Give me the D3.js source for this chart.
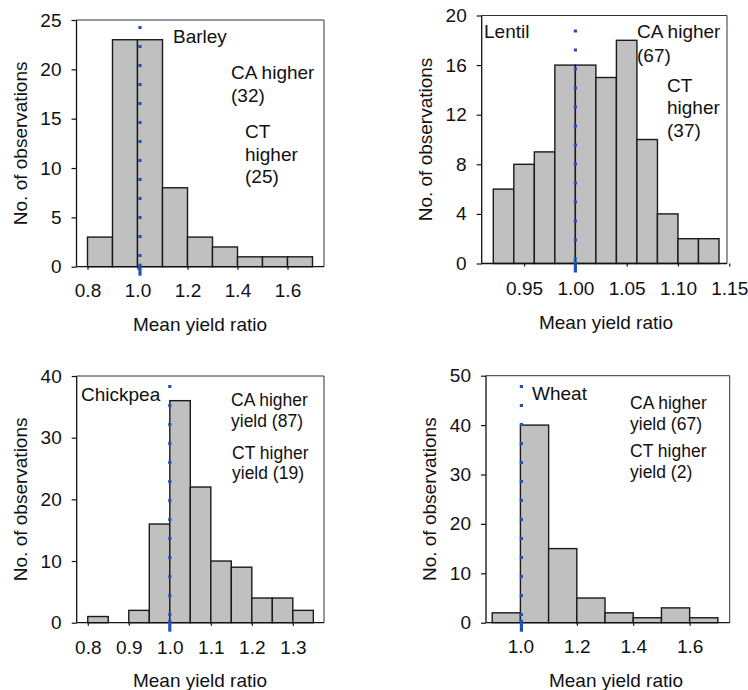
<!DOCTYPE html>
<html>
<head>
<meta charset="utf-8">
<script src="https://cdn.jsdelivr.net/npm/d3@7"></script>
<style>
  html, body { margin: 0; padding: 0; background: #fff; }
  svg text { font-family: "Liberation Sans", Arial, sans-serif; fill: #111; }
</style>
</head>
<body>
<svg id="chart" width="748" height="690"></svg>
<script>
// ---------- DATA ----------
const barleyBinStarts = [0.8, 0.9, 1.0, 1.1, 1.2, 1.3, 1.4, 1.5, 1.6];
const barleyCounts    = [3, 23, 23, 8, 3, 2, 1, 1, 1];
const barleyXTicks    = [0.8, 1.0, 1.2, 1.4, 1.6];
const barleyYTicks    = [0, 5, 10, 15, 20, 25];

const lentilBinStarts = [0.92, 0.94, 0.96, 0.98, 1.00, 1.02, 1.04, 1.06, 1.08, 1.10, 1.12];
const lentilCounts    = [6, 8, 9, 16, 16, 15, 18, 10, 4, 2, 2];
const lentilXTicks    = [0.95, 1.00, 1.05, 1.10, 1.15];
const lentilYTicks    = [0, 4, 8, 12, 16, 20];

const chickpeaBinStarts = [0.80, 0.85, 0.90, 0.95, 1.00, 1.05, 1.10, 1.15, 1.20, 1.25, 1.30];
const chickpeaCounts    = [1, 0, 2, 16, 36, 22, 10, 9, 4, 4, 2];
const chickpeaXTicks    = [0.8, 0.9, 1.0, 1.1, 1.2, 1.3];
const chickpeaYTicks    = [0, 10, 20, 30, 40];

const wheatBinStarts = [0.9, 1.0, 1.1, 1.2, 1.3, 1.4, 1.5, 1.6];
const wheatCounts    = [2, 40, 15, 5, 2, 1, 3, 1];
const wheatXTicks    = [1.0, 1.2, 1.4, 1.6];
const wheatYTicks    = [0, 10, 20, 30, 40, 50];

const xAxisTitle = "Mean yield ratio";
const yAxisTitle = "No. of observations";
const referenceRatio = 1.0;

// ---------- LAYOUT ----------
const panels = [
  { name: "Barley", starts: barleyBinStarts, counts: barleyCounts, binW: 0.1,
    xTicks: barleyXTicks, yTicks: barleyYTicks, fmt: ".1f",
    xDomain: [0.756, 1.746], xRange: [76.5, 324],
    yDomain: [0, 25], yRange: [266.7, 20],
    dotTop: 26, dotDx: 2.5, yLabelX: 27, xLabelX: 200, xLabelY: 331, tickLabelY: 297,
    nameAt: [173, 43], annFont: 19,
    notes: [["CA higher", 231, 79], ["(32)", 231, 102], ["CT", 245, 138], ["higher", 245, 160.5], ["(25)", 245, 183]] },
  { name: "Lentil", starts: lentilBinStarts, counts: lentilCounts, binW: 0.02,
    xTicks: lentilXTicks, yTicks: lentilYTicks, fmt: ".2f",
    xDomain: [0.9087, 1.1478], xRange: [481.7, 727],
    yDomain: [0, 20], yRange: [263.5, 15.5],
    dotTop: 29.5, dotDx: 0, yLabelX: 432, xLabelX: 606, xLabelY: 328.5, tickLabelY: 295,
    nameAt: [484, 38], annFont: 19,
    notes: [["CA higher", 637, 38], ["(67)", 637, 62], ["CT", 667, 91.5], ["higher", 667, 114], ["(37)", 667, 137]] },
  { name: "Chickpea", starts: chickpeaBinStarts, counts: chickpeaCounts, binW: 0.05,
    xTicks: chickpeaXTicks, yTicks: chickpeaYTicks, fmt: ".1f",
    xDomain: [0.773, 1.376], xRange: [76.7, 324],
    yDomain: [0, 40], yRange: [622.7, 376],
    dotTop: 385, dotDx: 0, yLabelX: 27, xLabelX: 200, xLabelY: 687, tickLabelY: 654,
    nameAt: [81, 401], annFont: 17.5,
    notes: [["CA higher", 231, 406], ["yield (87)", 231, 426.5], ["CT higher", 232, 459], ["yield (19)", 232, 479]] },
  { name: "Wheat", starts: wheatBinStarts, counts: wheatCounts, binW: 0.1,
    xTicks: wheatXTicks, yTicks: wheatYTicks, fmt: ".1f",
    xDomain: [0.878, 1.742], xRange: [486, 729.7],
    yDomain: [0, 50], yRange: [622.7, 375.7],
    dotTop: 385, dotDx: 1, yLabelX: 436, xLabelX: 616, xLabelY: 687, tickLabelY: 653,
    nameAt: [532, 400], annFont: 17.5,
    notes: [["CA higher", 630, 409], ["yield (67)", 630, 430], ["CT higher", 630, 457], ["yield (2)", 630, 477.5]] }
];

const svg = d3.select("#chart");
const FONT = 19;
const BLUE = "#2350b8";

panels.forEach(p => {
  const x = d3.scaleLinear().domain(p.xDomain).range(p.xRange);
  const y = d3.scaleLinear().domain(p.yDomain).range(p.yRange);
  const g = svg.append("g");
  const [x0, x1] = p.xRange;
  const [yb, yt] = p.yRange;

  // frame (top & right)
  g.append("path")
    .attr("d", `M${x0},${yt}H${x1}V${yb}`)
    .attr("fill", "none").attr("stroke", "#333").attr("stroke-width", 1);

  // bars
  const data = p.starts.map((s, i) => ({ s, c: p.counts[i] }));
  g.selectAll("rect.bar").data(data.filter(d => d.c > 0)).join("rect")
    .attr("class", "bar")
    .attr("x", d => x(d.s))
    .attr("width", d => x(d.s + p.binW) - x(d.s))
    .attr("y", d => y(d.c))
    .attr("height", d => y(0) - y(d.c))
    .attr("fill", "#c0c0c0")
    .attr("stroke", "#1a1a1a")
    .attr("stroke-width", 1.4);

  // y axis
  const yAxis = d3.axisLeft(y).tickValues(p.yTicks).tickSize(5).tickPadding(10).tickFormat(d3.format("d"));
  const ya = g.append("g").attr("transform", `translate(${x0},0)`).call(yAxis);
  ya.select(".domain").attr("stroke", "#111").attr("stroke-width", 1.3).attr("d", `M0,${yt}V${yb}`);
  ya.selectAll(".tick line").attr("stroke", "#111").attr("stroke-width", 1.2);
  ya.selectAll(".tick text").attr("font-size", FONT).attr("fill", "#111")
    .attr("font-family", '"Liberation Sans", Arial, sans-serif');

  // x axis
  const xAxis = d3.axisBottom(x).tickValues(p.xTicks).tickSize(3).tickPadding(0).tickFormat(d3.format(p.fmt));
  const xa = g.append("g").attr("transform", `translate(0,${yb})`).call(xAxis);
  xa.select(".domain").attr("stroke", "#111").attr("stroke-width", 1.3).attr("d", `M${x0},0H${x1}`);
  xa.selectAll(".tick line").attr("stroke", "#111").attr("stroke-width", 1.2);
  xa.selectAll(".tick text").attr("font-size", FONT).attr("fill", "#111")
    .attr("font-family", '"Liberation Sans", Arial, sans-serif')
    .attr("y", p.tickLabelY - yb).attr("dy", null);

  // reference line at ratio 1.0
  const xr = x(referenceRatio) + p.dotDx;
  g.append("line")
    .attr("x1", xr).attr("x2", xr).attr("y1", p.dotTop).attr("y2", yb - 4)
    .attr("stroke", BLUE).attr("stroke-width", 3.2).attr("stroke-dasharray", "3,16");
  g.append("line")
    .attr("x1", xr).attr("x2", xr).attr("y1", yb - 3).attr("y2", yb + 9)
    .attr("stroke", BLUE).attr("stroke-width", 3.2);

  // axis titles
  g.append("text").attr("x", p.xLabelX).attr("y", p.xLabelY)
    .attr("text-anchor", "middle").attr("font-size", FONT).text(xAxisTitle);
  g.append("text")
    .attr("transform", `translate(${p.yLabelX},${(yt + yb) / 2}) rotate(-90)`)
    .attr("text-anchor", "middle").attr("font-size", FONT).text(yAxisTitle);

  // crop name
  g.append("text").attr("x", p.nameAt[0]).attr("y", p.nameAt[1])
    .attr("font-size", FONT).text(p.name);

  // annotations
  g.selectAll("text.note").data(p.notes).join("text")
    .attr("class", "note")
    .attr("x", d => d[1]).attr("y", d => d[2])
    .attr("font-size", p.annFont).text(d => d[0]);
});
</script>
</body>
</html>
